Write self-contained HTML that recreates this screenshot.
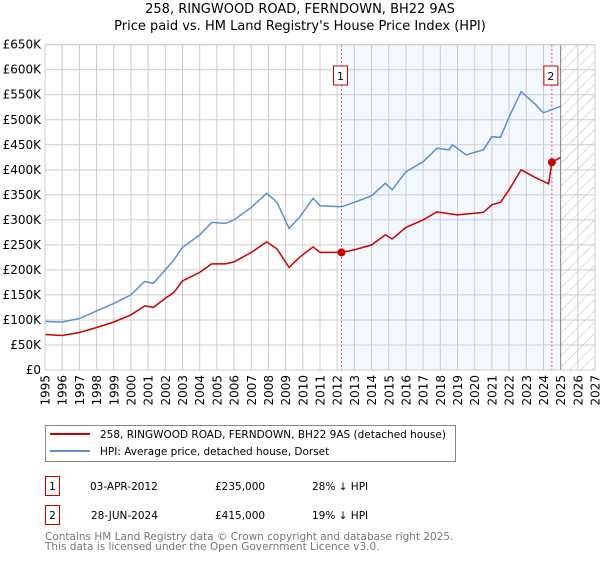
<!DOCTYPE html>
<html><head><meta charset="utf-8"><style>
body{margin:0;background:#fff;font-family:"Liberation Sans","DejaVu Sans",sans-serif;}
svg text{font-family:"DejaVu Sans","Liberation Sans",sans-serif;}
</style></head><body>
<svg id="chart" width="600" height="560" viewBox="0 0 600 560" xmlns="http://www.w3.org/2000/svg">
<defs>
<pattern id="hatch" patternUnits="userSpaceOnUse" width="8" height="8" patternTransform="rotate(45)"><line x1="0" y1="0" x2="0" y2="8" stroke="#bbb" stroke-width="1"/></pattern>
</defs>
<text x="300" y="13" text-anchor="middle" font-size="13">258, RINGWOOD ROAD, FERNDOWN, BH22 9AS</text>
<text x="300" y="30" text-anchor="middle" font-size="13">Price paid vs. HM Land Registry's House Price Index (HPI)</text>
<g id="plot"></g>
<rect x="45.5" y="425.5" width="410" height="36" fill="#fff" stroke="#888"/>
<line x1="50" y1="434" x2="90" y2="434" stroke="#cc0000" stroke-width="2"/>
<text x="100" y="438" font-size="10.5">258, RINGWOOD ROAD, FERNDOWN, BH22 9AS (detached house)</text>
<line x1="50" y1="451" x2="90" y2="451" stroke="#5b8fd0" stroke-width="2"/>
<text x="100" y="455" font-size="10.5">HPI: Average price, detached house, Dorset</text>
<rect x="45.5" y="476.5" width="14" height="19" fill="#fff" stroke="#cc0000"/>
<text x="52.5" y="490" text-anchor="middle" font-size="10.5">1</text>
<text x="90" y="490" font-size="10.5">03-APR-2012</text>
<text x="215" y="490" font-size="10.5">£235,000</text>
<text x="312" y="490" font-size="10.5">28% ↓ HPI</text>
<rect x="45.5" y="505.5" width="14" height="19" fill="#fff" stroke="#cc0000"/>
<text x="52.5" y="519" text-anchor="middle" font-size="10.5">2</text>
<text x="91" y="519" font-size="10.5">28-JUN-2024</text>
<text x="215" y="519" font-size="10.5">£415,000</text>
<text x="312" y="519" font-size="10.5">19% ↓ HPI</text>
<text x="45" y="540" font-size="10.5" fill="#777">Contains HM Land Registry data © Crown copyright and database right 2025.</text>
<text x="45" y="550" font-size="10.5" fill="#777">This data is licensed under the Open Government Licence v3.0.</text>
</svg>
<script>
const hpiYears=[1995,1996,1997,1998,1999,2000,2000.8,2001.3,2002,2002.5,2003,2004,2004.7,2005.5,2006,2007,2007.9,2008.5,2009.2,2009.8,2010.6,2011,2012.25,2013,2014,2014.8,2015.2,2016,2017,2017.8,2018.5,2018.7,2019.5,2020.5,2021,2021.5,2022,2022.7,2023.5,2024,2025];
const hpiValues=[97,96,103,118,133,150,177,173,200,220,245,270,295,293,300,325,353,335,283,305,343,328,326,335,348,373,360,396,416,443,440,450,430,440,466,465,506,556,532,514,527];
const paidYears=[1995,1996,1997,1998,1999,2000,2000.8,2001.3,2002,2002.5,2003,2004,2004.7,2005.5,2006,2007,2007.9,2008.5,2009.2,2009.8,2010.6,2011,2012.25,2013,2014,2014.8,2015.2,2016,2017,2017.8,2019,2020.5,2021,2021.5,2022,2022.7,2023.5,2024.3,2024.49,2025];
const paidValues=[71,69,75,85,96,110,128,125,143,155,178,195,212,212,216,235,256,242,205,225,246,235,235,240,250,270,262,285,300,316,310,315,330,335,360,400,385,372,415,425];
const saleYears=[2012.25,2024.49];
const saleValues=[235,415];
const saleLabels=["1","2"];
const yTicks=[0,50,100,150,200,250,300,350,400,450,500,550,600,650];
const xTicks=[1995,1996,1997,1998,1999,2000,2001,2002,2003,2004,2005,2006,2007,2008,2009,2010,2011,2012,2013,2014,2015,2016,2017,2018,2019,2020,2021,2022,2023,2024,2025,2026,2027];
const X0=45,X1=595,Y0=370,Y1=44.7;
const xs=y=>X0+(y-1995)/(2027-1995)*(X1-X0);
const ys=v=>Y0-v/650*(Y0-Y1);
const NS="http://www.w3.org/2000/svg";
const g=document.getElementById('plot');
function mk(t,a){const e=document.createElementNS(NS,t);for(const k in a)e.setAttribute(k,a[k]);g.appendChild(e);return e;}
const sh=mk('rect',{x:xs(saleYears[0]),y:Y1,width:xs(2025)-xs(saleYears[0]),height:Y0-Y1,fill:'#eef3fd',opacity:0.7});


const ht=mk('rect',{x:xs(2025),y:Y1,width:X1-xs(2025),height:Y0-Y1,fill:'url(#hatch)'});


yTicks.forEach(v=>{
 const l=mk('line',{x1:X0,x2:X1,y1:ys(v),y2:ys(v),stroke:'#ccc','stroke-width':1});
 
 
 const t=mk('text',{x:X0-4,y:ys(v)+4,'text-anchor':'end','font-size':12});
 
 
 t.textContent=v===0?'£0':'£'+v+'K';
});
xTicks.forEach(y=>{
 const l=mk('line',{x1:xs(y),x2:xs(y),y1:Y1,y2:Y0,stroke:'#ccc','stroke-width':1});
 
 
 const t=mk('text',{x:0,y:0,'text-anchor':'end','font-size':12,transform:`translate(${xs(y)+4.5},375) rotate(-90)`});
 
 
 t.textContent=y;
});
const nl=mk('line',{x1:xs(2025),x2:xs(2025),y1:Y1,y2:Y0,stroke:'#888','stroke-width':1});


saleYears.forEach((y,i)=>{
 const l=mk('line',{x1:xs(y),x2:xs(y),y1:Y1,y2:Y0,stroke:'#e06060','stroke-width':1,'stroke-dasharray':'2,2'});
 
 
 const b=mk('rect',{x:xs(y)-8,y:66,width:14,height:19,fill:'#fff',stroke:'#cc0000'});
 
 
 const t=mk('text',{x:xs(y)-1,y:80,'text-anchor':'middle','font-size':11});
 
 
 t.textContent=saleLabels[i];
});
function path(xa,va){return xa.map((x,i)=>(i?'L':'M')+xs(x).toFixed(1)+','+ys(va[i]).toFixed(1)).join('');}
const hp=mk('path',{d:path(hpiYears,hpiValues),fill:'none',stroke:'#5b8fd0','stroke-width':1.5});


const pp=mk('path',{d:path(paidYears,paidValues),fill:'none',stroke:'#cc0000','stroke-width':1.5});


saleYears.forEach((y,i)=>{
 const c=mk('circle',{cx:xs(y),cy:ys(saleValues[i]),r:4,fill:'#cc0000'});
 
 
});
const ax=mk('rect',{x:X0,y:Y1,width:X1-X0,height:Y0-Y1,fill:'none',stroke:'#ccc'});


</script>
</body></html>
